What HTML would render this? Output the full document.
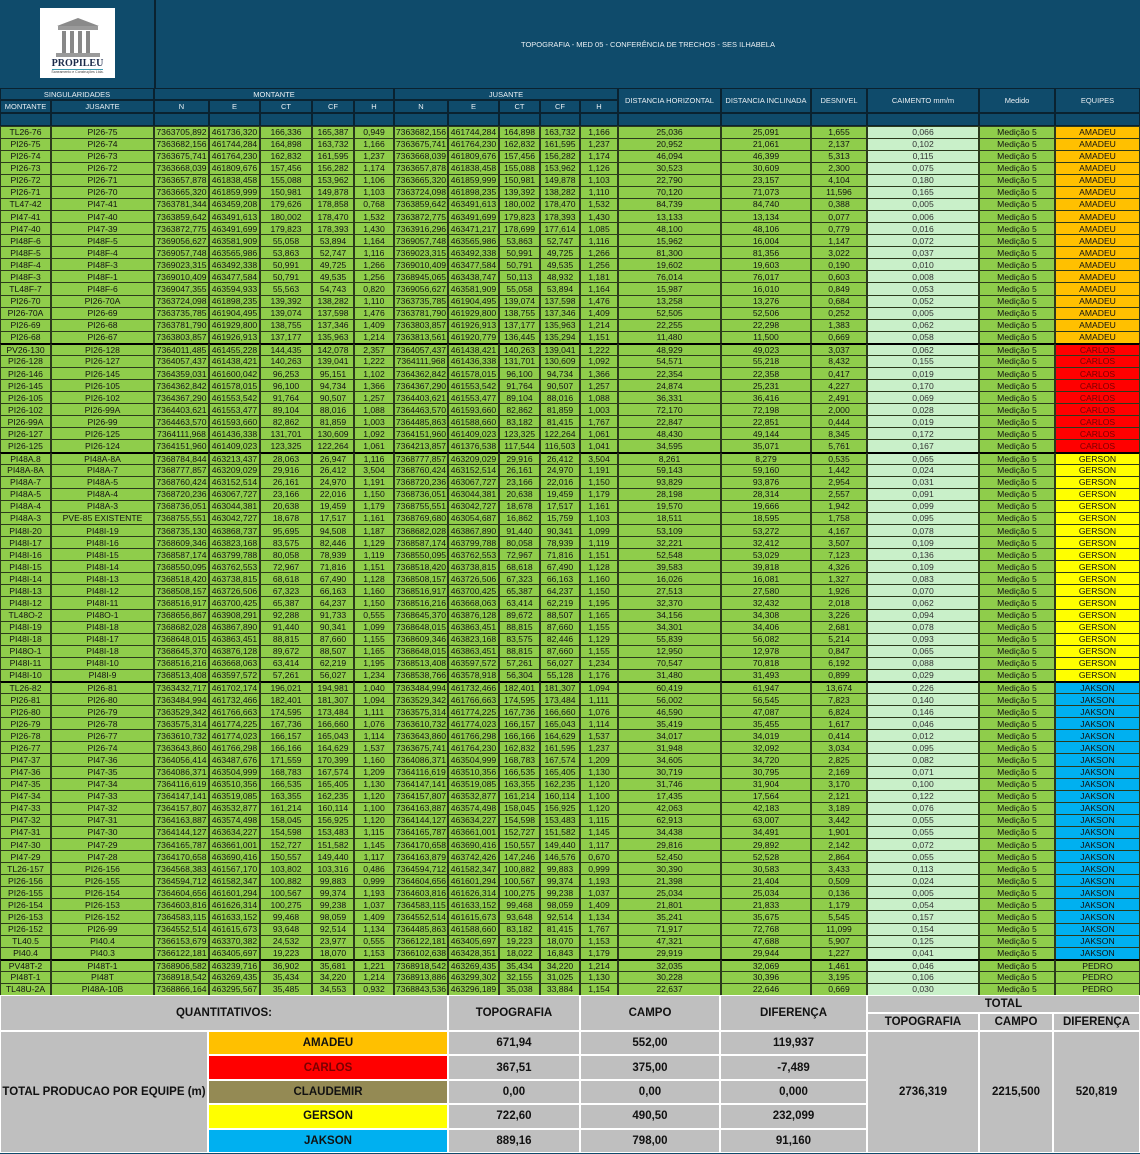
<!DOCTYPE html>
<html><head><meta charset="utf-8">
<style>
html,body{margin:0;padding:0;background:#fff}
#root{position:relative;width:1140px;height:1154px;overflow:hidden;font-family:"Liberation Sans",Arial,sans-serif;background:#0f4b6b}
.c{position:absolute;box-sizing:border-box;display:flex;align-items:center;justify-content:center;white-space:nowrap;overflow:hidden}
.h{color:#e8eef2;font-size:7.5px;border:1px solid #0a2230;background:#0f4b6b}
.d{font-size:8.6px;color:#111;border:1px solid #2c3a1c;background:#8fcd4b}
.s{font-weight:bold;font-size:11.5px;color:#111;border:1px solid #fff;background:#bfbfbf}
</style></head>
<body>
<div id="root">
  <div class="c" style="left:40px;top:8px;width:75px;height:70px;background:#fff;flex-direction:column;justify-content:flex-end;padding-bottom:4px">
    <svg width="50" height="42" viewBox="0 0 50 42">
      <polygon points="4,10 25,2 46,10" fill="#8a8a8a"/>
      <rect x="5" y="10" width="40" height="4" fill="#9a9a9a"/>
      <rect x="9" y="15" width="4" height="22" fill="#888"/><rect x="17" y="15" width="4" height="22" fill="#888"/>
      <rect x="25" y="15" width="4" height="22" fill="#888"/><rect x="33" y="15" width="4" height="22" fill="#888"/>
      <rect x="3" y="37" width="44" height="4" fill="#9a9a9a"/>
    </svg>
    <div style="font-family:'Liberation Serif',serif;font-weight:bold;font-size:10px;color:#1c2a4a;border-bottom:1px solid #3a9ab0;line-height:11px">PROPILEU</div>
    <div style="font-size:3.5px;color:#444">Saneamento e Construções Ltda.</div>
  </div>
  <div class="c" style="left:154px;top:0;width:986px;height:88px;color:#e8eef2;font-size:7.5px;border-left:2px solid #0a2230">TOPOGRAFIA - MED 05 - CONFERÊNCIA DE TRECHOS - SES ILHABELA</div>
</div>
<script>
var teams=["AMADEU","CARLOS","GERSON","JAKSON","PEDRO"];
var teamCounts=[18,9,19,23,3];
var rows=[
"TL26-76|PI26-75|7363705,892|461736,320|166,336|165,387|0,949|7363682,156|461744,284|164,898|163,732|1,166|25,036|25,091|1,655|0,066",
"PI26-75|PI26-74|7363682,156|461744,284|164,898|163,732|1,166|7363675,741|461764,230|162,832|161,595|1,237|20,952|21,061|2,137|0,102",
"PI26-74|PI26-73|7363675,741|461764,230|162,832|161,595|1,237|7363668,039|461809,676|157,456|156,282|1,174|46,094|46,399|5,313|0,115",
"PI26-73|PI26-72|7363668,039|461809,676|157,456|156,282|1,174|7363657,878|461838,458|155,088|153,962|1,126|30,523|30,609|2,300|0,075",
"PI26-72|PI26-71|7363657,878|461838,458|155,088|153,962|1,106|7363665,320|461859,999|150,981|149,878|1,103|22,790|23,157|4,104|0,180",
"PI26-71|PI26-70|7363665,320|461859,999|150,981|149,878|1,103|7363724,098|461898,235|139,392|138,282|1,110|70,120|71,073|11,596|0,165",
"TL47-42|PI47-41|7363781,344|463459,208|179,626|178,858|0,768|7363859,642|463491,613|180,002|178,470|1,532|84,739|84,740|0,388|0,005",
"PI47-41|PI47-40|7363859,642|463491,613|180,002|178,470|1,532|7363872,775|463491,699|179,823|178,393|1,430|13,133|13,134|0,077|0,006",
"PI47-40|PI47-39|7363872,775|463491,699|179,823|178,393|1,430|7363916,296|463471,217|178,699|177,614|1,085|48,100|48,106|0,779|0,016",
"PI48F-6|PI48F-5|7369056,627|463581,909|55,058|53,894|1,164|7369057,748|463565,986|53,863|52,747|1,116|15,962|16,004|1,147|0,072",
"PI48F-5|PI48F-4|7369057,748|463565,986|53,863|52,747|1,116|7369023,315|463492,338|50,991|49,725|1,266|81,300|81,356|3,022|0,037",
"PI48F-4|PI48F-3|7369023,315|463492,338|50,991|49,725|1,266|7369010,409|463477,584|50,791|49,535|1,256|19,602|19,603|0,190|0,010",
"PI48F-3|PI48F-1|7369010,409|463477,584|50,791|49,535|1,256|7368945,065|463438,747|50,113|48,932|1,181|76,014|76,017|0,603|0,008",
"TL48F-7|PI48F-6|7369047,355|463594,933|55,563|54,743|0,820|7369056,627|463581,909|55,058|53,894|1,164|15,987|16,010|0,849|0,053",
"PI26-70|PI26-70A|7363724,098|461898,235|139,392|138,282|1,110|7363735,785|461904,495|139,074|137,598|1,476|13,258|13,276|0,684|0,052",
"PI26-70A|PI26-69|7363735,785|461904,495|139,074|137,598|1,476|7363781,790|461929,800|138,755|137,346|1,409|52,505|52,506|0,252|0,005",
"PI26-69|PI26-68|7363781,790|461929,800|138,755|137,346|1,409|7363803,857|461926,913|137,177|135,963|1,214|22,255|22,298|1,383|0,062",
"PI26-68|PI26-67|7363803,857|461926,913|137,177|135,963|1,214|7363813,561|461920,779|136,445|135,294|1,151|11,480|11,500|0,669|0,058",
"PV26-130|PI26-128|7364011,485|461455,228|144,435|142,078|2,357|7364057,437|461438,421|140,263|139,041|1,222|48,929|49,023|3,037|0,062",
"PI26-128|PI26-127|7364057,437|461438,421|140,263|139,041|1,222|7364111,968|461436,338|131,701|130,609|1,092|54,571|55,218|8,432|0,155",
"PI26-146|PI26-145|7364359,031|461600,042|96,253|95,151|1,102|7364362,842|461578,015|96,100|94,734|1,366|22,354|22,358|0,417|0,019",
"PI26-145|PI26-105|7364362,842|461578,015|96,100|94,734|1,366|7364367,290|461553,542|91,764|90,507|1,257|24,874|25,231|4,227|0,170",
"PI26-105|PI26-102|7364367,290|461553,542|91,764|90,507|1,257|7364403,621|461553,477|89,104|88,016|1,088|36,331|36,416|2,491|0,069",
"PI26-102|PI26-99A|7364403,621|461553,477|89,104|88,016|1,088|7364463,570|461593,660|82,862|81,859|1,003|72,170|72,198|2,000|0,028",
"PI26-99A|PI26-99|7364463,570|461593,660|82,862|81,859|1,003|7364485,863|461588,660|83,182|81,415|1,767|22,847|22,851|0,444|0,019",
"PI26-127|PI26-125|7364111,968|461436,338|131,701|130,609|1,092|7364151,960|461409,023|123,325|122,264|1,061|48,430|49,144|8,345|0,172",
"PI26-125|PI26-124|7364151,960|461409,023|123,325|122,264|1,061|7364213,857|461376,538|117,544|116,503|1,041|34,595|35,071|5,761|0,167",
"PI48A.8|PI48A-8A|7368784,844|463213,437|28,063|26,947|1,116|7368777,857|463209,029|29,916|26,412|3,504|8,261|8,279|0,535|0,065",
"PI48A-8A|PI48A-7|7368777,857|463209,029|29,916|26,412|3,504|7368760,424|463152,514|26,161|24,970|1,191|59,143|59,160|1,442|0,024",
"PI48A-7|PI48A-5|7368760,424|463152,514|26,161|24,970|1,191|7368720,236|463067,727|23,166|22,016|1,150|93,829|93,876|2,954|0,031",
"PI48A-5|PI48A-4|7368720,236|463067,727|23,166|22,016|1,150|7368736,051|463044,381|20,638|19,459|1,179|28,198|28,314|2,557|0,091",
"PI48A-4|PI48A-3|7368736,051|463044,381|20,638|19,459|1,179|7368755,551|463042,727|18,678|17,517|1,161|19,570|19,666|1,942|0,099",
"PI48A-3|PVE-85 EXISTENTE|7368755,551|463042,727|18,678|17,517|1,161|7368769,680|463054,687|16,862|15,759|1,103|18,511|18,595|1,758|0,095",
"PI48I-20|PI48I-19|7368735,130|463868,737|95,695|94,508|1,187|7368682,028|463867,890|91,440|90,341|1,099|53,109|53,272|4,167|0,078",
"PI48I-17|PI48I-16|7368609,346|463823,168|83,575|82,446|1,129|7368587,174|463799,788|80,058|78,939|1,119|32,221|32,412|3,507|0,109",
"PI48I-16|PI48I-15|7368587,174|463799,788|80,058|78,939|1,119|7368550,095|463762,553|72,967|71,816|1,151|52,548|53,029|7,123|0,136",
"PI48I-15|PI48I-14|7368550,095|463762,553|72,967|71,816|1,151|7368518,420|463738,815|68,618|67,490|1,128|39,583|39,818|4,326|0,109",
"PI48I-14|PI48I-13|7368518,420|463738,815|68,618|67,490|1,128|7368508,157|463726,506|67,323|66,163|1,160|16,026|16,081|1,327|0,083",
"PI48I-13|PI48I-12|7368508,157|463726,506|67,323|66,163|1,160|7368516,917|463700,425|65,387|64,237|1,150|27,513|27,580|1,926|0,070",
"PI48I-12|PI48I-11|7368516,917|463700,425|65,387|64,237|1,150|7368516,216|463668,063|63,414|62,219|1,195|32,370|32,432|2,018|0,062",
"TL48O-2|PI48O-1|7368656,867|463908,291|92,288|91,733|0,555|7368645,370|463876,128|89,672|88,507|1,165|34,156|34,308|3,226|0,094",
"PI48I-19|PI48I-18|7368682,028|463867,890|91,440|90,341|1,099|7368648,015|463863,451|88,815|87,660|1,155|34,301|34,406|2,681|0,078",
"PI48I-18|PI48I-17|7368648,015|463863,451|88,815|87,660|1,155|7368609,346|463823,168|83,575|82,446|1,129|55,839|56,082|5,214|0,093",
"PI48O-1|PI48I-18|7368645,370|463876,128|89,672|88,507|1,165|7368648,015|463863,451|88,815|87,660|1,155|12,950|12,978|0,847|0,065",
"PI48I-11|PI48I-10|7368516,216|463668,063|63,414|62,219|1,195|7368513,408|463597,572|57,261|56,027|1,234|70,547|70,818|6,192|0,088",
"PI48I-10|PI48I-9|7368513,408|463597,572|57,261|56,027|1,234|7368538,766|463578,918|56,304|55,128|1,176|31,480|31,493|0,899|0,029",
"TL26-82|PI26-81|7363432,717|461702,174|196,021|194,981|1,040|7363484,994|461732,466|182,401|181,307|1,094|60,419|61,947|13,674|0,226",
"PI26-81|PI26-80|7363484,994|461732,466|182,401|181,307|1,094|7363529,342|461766,663|174,595|173,484|1,111|56,002|56,545|7,823|0,140",
"PI26-80|PI26-79|7363529,342|461766,663|174,595|173,484|1,111|7363575,314|461774,225|167,736|166,660|1,076|46,590|47,087|6,824|0,146",
"PI26-79|PI26-78|7363575,314|461774,225|167,736|166,660|1,076|7363610,732|461774,023|166,157|165,043|1,114|35,419|35,455|1,617|0,046",
"PI26-78|PI26-77|7363610,732|461774,023|166,157|165,043|1,114|7363643,860|461766,298|166,166|164,629|1,537|34,017|34,019|0,414|0,012",
"PI26-77|PI26-74|7363643,860|461766,298|166,166|164,629|1,537|7363675,741|461764,230|162,832|161,595|1,237|31,948|32,092|3,034|0,095",
"PI47-37|PI47-36|7364056,414|463487,676|171,559|170,399|1,160|7364086,371|463504,999|168,783|167,574|1,209|34,605|34,720|2,825|0,082",
"PI47-36|PI47-35|7364086,371|463504,999|168,783|167,574|1,209|7364116,619|463510,356|166,535|165,405|1,130|30,719|30,795|2,169|0,071",
"PI47-35|PI47-34|7364116,619|463510,356|166,535|165,405|1,130|7364147,141|463519,085|163,355|162,235|1,120|31,746|31,904|3,170|0,100",
"PI47-34|PI47-33|7364147,141|463519,085|163,355|162,235|1,120|7364157,807|463532,877|161,214|160,114|1,100|17,435|17,564|2,121|0,122",
"PI47-33|PI47-32|7364157,807|463532,877|161,214|160,114|1,100|7364163,887|463574,498|158,045|156,925|1,120|42,063|42,183|3,189|0,076",
"PI47-32|PI47-31|7364163,887|463574,498|158,045|156,925|1,120|7364144,127|463634,227|154,598|153,483|1,115|62,913|63,007|3,442|0,055",
"PI47-31|PI47-30|7364144,127|463634,227|154,598|153,483|1,115|7364165,787|463661,001|152,727|151,582|1,145|34,438|34,491|1,901|0,055",
"PI47-30|PI47-29|7364165,787|463661,001|152,727|151,582|1,145|7364170,658|463690,416|150,557|149,440|1,117|29,816|29,892|2,142|0,072",
"PI47-29|PI47-28|7364170,658|463690,416|150,557|149,440|1,117|7364163,879|463742,426|147,246|146,576|0,670|52,450|52,528|2,864|0,055",
"TL26-157|PI26-156|7364568,383|461567,170|103,802|103,316|0,486|7364594,712|461582,347|100,882|99,883|0,999|30,390|30,583|3,433|0,113",
"PI26-156|PI26-155|7364594,712|461582,347|100,882|99,883|0,999|7364604,656|461601,294|100,567|99,374|1,193|21,398|21,404|0,509|0,024",
"PI26-155|PI26-154|7364604,656|461601,294|100,567|99,374|1,193|7364603,816|461626,314|100,275|99,238|1,037|25,034|25,034|0,136|0,005",
"PI26-154|PI26-153|7364603,816|461626,314|100,275|99,238|1,037|7364583,115|461633,152|99,468|98,059|1,409|21,801|21,833|1,179|0,054",
"PI26-153|PI26-152|7364583,115|461633,152|99,468|98,059|1,409|7364552,514|461615,673|93,648|92,514|1,134|35,241|35,675|5,545|0,157",
"PI26-152|PI26-99|7364552,514|461615,673|93,648|92,514|1,134|7364485,863|461588,660|83,182|81,415|1,767|71,917|72,768|11,099|0,154",
"TL40.5|PI40.4|7366153,679|463370,382|24,532|23,977|0,555|7366122,181|463405,697|19,223|18,070|1,153|47,321|47,688|5,907|0,125",
"PI40.4|PI40.3|7366122,181|463405,697|19,223|18,070|1,153|7366102,638|463428,351|18,022|16,843|1,179|29,919|29,944|1,227|0,041",
"PV48T-2|PI48T-1|7368906,582|463239,716|36,902|35,681|1,221|7368918,542|463269,435|35,434|34,220|1,214|32,035|32,069|1,461|0,046",
"PI48T-1|PI48T|7368918,542|463269,435|35,434|34,220|1,214|7368913,886|463299,302|32,155|31,025|1,130|30,228|30,396|3,195|0,106",
"TL48U-2A|PI48A-10B|7368866,164|463295,567|35,485|34,553|0,932|7368843,536|463296,189|35,038|33,884|1,154|22,637|22,646|0,669|0,030"
];
var sumTeams=["AMADEU","CARLOS","CLAUDEMIR","GERSON","JAKSON"];
var sumTopo=["671,94","367,51","0,00","722,60","889,16"];
var sumCampo=["552,00","375,00","0,00","490,50","798,00"];
var sumDif=["119,937","-7,489","0,000","232,099","91,160"];
var totals=["2736,319","2215,500","520,819"];

var X=[0,51,154,209,260,312,354,394,448,499,540,580,618,721,811,867,979,1055,1140];
var teamBg={AMADEU:"#ffc000",CARLOS:"#ff0000",CLAUDEMIR:"#948a54",GERSON:"#ffff00",JAKSON:"#00b0f0",PEDRO:"#8fcd4b"};
var root=document.getElementById('root');
function cell(cls,x,y,w,h,txt){
  var d=document.createElement('div');
  d.className='c '+cls;
  d.style.left=x+'px';d.style.top=y+'px';d.style.width=w+'px';d.style.height=h+'px';
  d.textContent=txt;root.appendChild(d);return d;
}
var e;
// header
e=cell('h',0,88,154,12,'SINGULARIDADES');


e=cell('h',154,88,240,12,'MONTANTE');


e=cell('h',394,88,224,12,'JUSANTE');


var sub=["MONTANTE","JUSANTE","N","E","CT","CF","H","N","E","CT","CF","H"];
for(var i=0;i<12;i++){
  e=cell('h',X[i],100,X[i+1]-X[i],13,sub[i]);
  
  
}
var big=["DISTANCIA HORIZONTAL","DISTANCIA INCLINADA","DESNIVEL","CAIMENTO mm/m","Medido","EQUIPES"];
for(var i=0;i<6;i++){
  e=cell('h',X[12+i],88,X[13+i]-X[12+i],25,big[i]);
  
  
}
for(var i=0;i<18;i++){
  e=cell('h',X[i],113,X[i+1]-X[i],13,'');
  
  
}
// data
var y0=125.5,rh=(995-125.5)/rows.length;
var ri=0;
for(var t=0;t<teams.length;t++){
  for(var k=0;k<teamCounts[t];k++){
    var f=rows[ri].split('|');
    f.push('Medição 5');f.push(teams[t]);
    var y=y0+ri*rh;
    for(var c=0;c<18;c++){
      e=cell('d',X[c],y,X[c+1]-X[c],rh+1,f[c]);
      if(c==15){e.style.background='#c9f0c9';e.style.color='#333';}
      if(c==17){e.style.background=teamBg[teams[t]];if(teams[t]=='CARLOS')e.style.color='#7a0000';}
      if(k==0&&ri>0)e.style.borderTop='2px solid #000';
      
      
    }
    ri++;
  }
}
// summary
var sy=995;
e=cell('s',0,sy,448,36,'QUANTITATIVOS:');


var sh=[["TOPOGRAFIA",448,580],["CAMPO",580,720],["DIFERENÇA",720,867]];
for(var i=0;i<3;i++){
  e=cell('s',sh[i][1],sy,sh[i][2]-sh[i][1],36,sh[i][0]);
  
  
}
e=cell('s',867,sy,273,18,'TOTAL');


var th=[["TOPOGRAFIA",867,979],["CAMPO",979,1053],["DIFERENÇA",1053,1140]];
for(var i=0;i<3;i++){
  e=cell('s',th[i][1],sy+18,th[i][2]-th[i][1],18,th[i][0]);
  
  
}
var by=1031,bh=24.4;
e=cell('s',0,by,208,bh*5,'TOTAL PRODUCAO POR EQUIPE (m)');


for(var i=0;i<sumTeams.length;i++){
  var yy=by+i*bh;
  e=cell('s',208,yy,240,bh,sumTeams[i]);
  e.style.background=teamBg[sumTeams[i]];
  if(sumTeams[i]=='CARLOS')e.style.color='#7a0000';
  
  
  e=cell('s',448,yy,132,bh,sumTopo[i]);
  
  
  e=cell('s',580,yy,140,bh,sumCampo[i]);
  
  
  e=cell('s',720,yy,147,bh,sumDif[i]);
  
  
}
for(var i=0;i<3;i++){
  e=cell('s',th[i][1],by,th[i][2]-th[i][1],bh*5,totals[i]);
  
  
}
</script>
</body></html>
